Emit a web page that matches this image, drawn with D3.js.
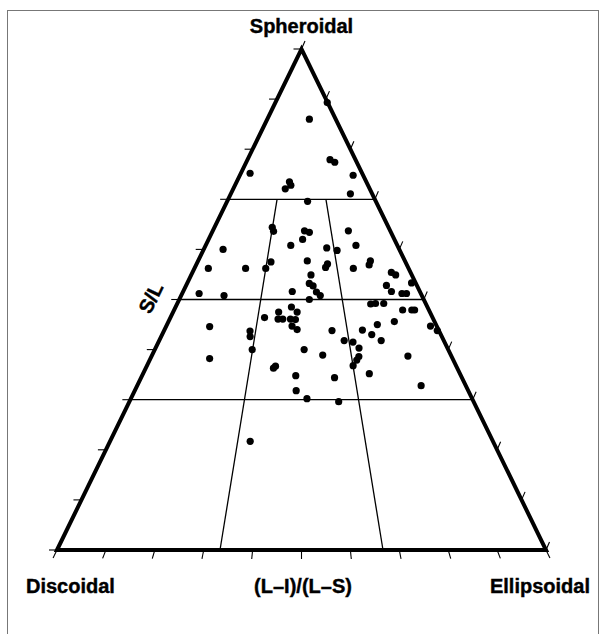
<!DOCTYPE html>
<html>
<head>
<meta charset="utf-8">
<script src="https://cdn.jsdelivr.net/npm/d3@7"></script>
<style>
  body { margin: 0; background: #fff; }
  text { font-family: "Liberation Sans", Arial, sans-serif; font-weight: bold; }
</style>
</head>
<body>
<div id="chart"></div>
<script>
// --------------------------------------
//  Data: S/L and (L-I)/(L-S) per sample
// --------------------------------------

const slRatio = [
  0.860, 0.893, 0.779, 0.774, 0.752, 0.748, 0.735, 0.728, 0.721, 0.711,
  0.696, 0.644, 0.636, 0.637, 0.634, 0.637, 0.620, 0.608, 0.608, 0.603,
  0.598, 0.600, 0.575, 0.577, 0.577, 0.569, 0.571, 0.564, 0.562, 0.562,
  0.562, 0.562, 0.549, 0.554, 0.549, 0.532, 0.527, 0.528, 0.516, 0.533,
  0.512, 0.508, 0.516, 0.515, 0.508, 0.512, 0.512, 0.500, 0.491, 0.492,
  0.492, 0.479, 0.479, 0.479, 0.464, 0.475, 0.461, 0.461, 0.485, 0.475,
  0.461, 0.460, 0.447, 0.440, 0.446, 0.450, 0.456, 0.447, 0.438, 0.437,
  0.426, 0.438, 0.439, 0.430, 0.418, 0.415, 0.418, 0.400, 0.400, 0.403,
  0.382, 0.389, 0.387, 0.386, 0.379, 0.368, 0.367, 0.363, 0.348, 0.352,
  0.344, 0.328, 0.318, 0.302, 0.296, 0.217
];

const formIndex = [
  0.615, 0.992, 0.764, 0.801, 0.076, 0.919, 0.407, 0.420, 0.381, 0.846,
  0.541, 0.332, 0.343, 0.517, 0.544, 0.764, 0.506, 0.444, 0.784, 0.630,
  0.681, 0.099, 0.353, 0.528, 0.833, 0.821, 0.624, 0.613, 0.065, 0.239,
  0.333, 0.742, 0.543, 0.912, 0.927, 0.534, 0.550, 0.868, 0.880, 0.982,
  0.071, 0.178, 0.461, 0.563, 0.578, 0.921, 0.940, 0.532, 0.778, 0.798,
  0.831, 0.897, 0.933, 0.944, 0.359, 0.411, 0.411, 0.429, 0.460, 0.483,
  0.458, 0.477, 0.465, 0.484, 0.161, 0.782, 0.849, 0.977, 0.994, 0.313,
  0.317, 0.611, 0.722, 0.752, 0.650, 0.680, 0.780, 0.332, 0.509, 0.697,
  0.196, 0.571, 0.855, 0.691, 0.682, 0.667, 0.416, 0.410, 0.482, 0.714,
  0.603, 0.864, 0.484, 0.516, 0.608, 0.366
];

// class boundaries (Sneed & Folk)
const slBreaks = [0.3, 0.5, 0.7];
const formBreaks = [1 / 3, 2 / 3];
const formBreakTop = 0.7;
const tickValues = [0, 0.1, 0.2, 0.3, 0.4, 0.5, 0.6, 0.7, 0.8, 0.9, 1];

const cornerLabels = {top: "Spheroidal", left: "Discoidal", right: "Ellipsoidal"};
const bottomTitle = "(L\u2013I)/(L\u2013S)";
const sideTitle = "S/L";

// --------------------------------------
//  Canvas and scales
// --------------------------------------

const width = 605;
const height = 634;

const svg = d3.select("#chart")
  .append("svg")
    .attr("width", width)
    .attr("height", height)
    .attr("viewBox", `0, 0, ${width}, ${height}`);

svg.append("rect")
  .attr("x", 7.5).attr("y", 10.5)
  .attr("width", 591).attr("height", 640)
  .attr("fill", "#fff")
  .attr("stroke", "#777")
  .attr("stroke-width", 1);

// S/L runs up the triangle, form index runs along the base
const y = d3.scaleLinear().domain([0, 1]).range([550, 49]);
const x = d3.scaleLinear().domain([0, 1]).range([57, 546]);
const apexX = x(0.5);

// position of (form, s) inside the triangle: rays from apex to base
const proj = (f, s) => [apexX + (x(f) - apexX) * (1 - s), y(s)];

const line = d3.line();

// --------------------------------------
//  Class boundaries
// --------------------------------------

const grid = svg.append("g")
  .attr("stroke", "#000")
  .attr("stroke-width", 1.3)
  .attr("fill", "none");

grid.selectAll(".hline")
  .data(slBreaks)
  .join("path")
    .attr("class", "hline")
    .attr("d", s => line([proj(0, s), proj(1, s)]));

grid.selectAll(".vline")
  .data(formBreaks)
  .join("path")
    .attr("class", "vline")
    .attr("d", f => line([proj(f, 0), proj(f, formBreakTop)]));

// --------------------------------------
//  Ticks
// --------------------------------------

const ticks = svg.append("g")
  .attr("stroke", "#000")
  .attr("stroke-width", 1.1);

ticks.selectAll(".tl")
  .data(tickValues)
  .join("line")
    .attr("x1", s => proj(0, s)[0] - 8)
    .attr("x2", s => proj(0, s)[0])
    .attr("y1", s => y(s))
    .attr("y2", s => y(s));

ticks.selectAll(".tr")
  .data(tickValues)
  .join("line")
    .attr("x1", s => proj(1, s)[0])
    .attr("x2", s => proj(1, s)[0] + 3.5)
    .attr("y1", s => y(s))
    .attr("y2", s => y(s) - 8);

ticks.selectAll(".tb")
  .data(tickValues)
  .join("line")
    .attr("x1", f => x(f))
    .attr("y1", y(0))
    .attr("x2", f => {
      const dx = x(f) - apexX, dy = y(0) - y(1);
      return x(f) + 9 * dx / Math.hypot(dx, dy);
    })
    .attr("y2", f => {
      const dx = x(f) - apexX, dy = y(0) - y(1);
      return y(0) + 9 * dy / Math.hypot(dx, dy);
    });

// --------------------------------------
//  Triangle outline
// --------------------------------------

svg.append("path")
  .attr("d", line([proj(0, 0), proj(0, 1), proj(1, 0)]) + "Z")
  .attr("fill", "none")
  .attr("stroke", "#000")
  .attr("stroke-width", 4)
  .attr("stroke-linejoin", "miter");

// --------------------------------------
//  Samples
// --------------------------------------

svg.append("g")
  .selectAll("circle")
  .data(slRatio.map((s, i) => ({s: s, f: formIndex[i]})))
  .join("circle")
    .attr("cx", d => proj(d.f, d.s)[0])
    .attr("cy", d => proj(d.f, d.s)[1])
    .attr("r", 3.6)
    .attr("fill", "#000");

// --------------------------------------
//  Labels
// --------------------------------------

const labels = svg.append("g")
  .attr("font-size", 20)
  .attr("fill", "#000")
  .attr("stroke", "#000")
  .attr("stroke-width", 0.4);

labels.append("text")
  .attr("x", apexX).attr("y", 33)
  .attr("text-anchor", "middle")
  .text(cornerLabels.top);

labels.append("text")
  .attr("x", 26).attr("y", 593)
  .text(cornerLabels.left);

labels.append("text")
  .attr("x", 590).attr("y", 593)
  .attr("text-anchor", "end")
  .text(cornerLabels.right);

labels.append("text")
  .attr("x", 303).attr("y", 593)
  .attr("text-anchor", "middle")
  .text(bottomTitle);

labels.append("text")
  .attr("transform", "translate(157, 301) rotate(-64)")
  .attr("text-anchor", "middle")
  .text(sideTitle);
</script>
</body>
</html>
